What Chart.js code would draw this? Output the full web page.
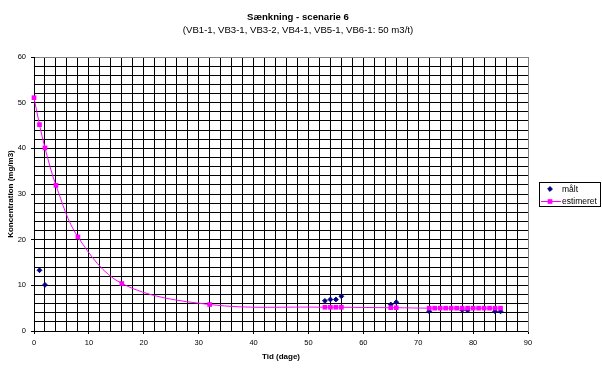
<!DOCTYPE html>
<html>
<head>
<meta charset="utf-8">
<script src="https://cdn.jsdelivr.net/npm/chart.js@4/dist/chart.umd.min.js"></script>
<style>
  html, body { margin: 0; padding: 0; background: #ffffff; }
  #wrap { width: 602px; height: 375px; position: relative; }
</style>
</head>
<body>
<div id="wrap"><canvas id="c" width="602" height="375"></canvas></div>
<script>
// ---- data ----
const titleText = 'Sænkning - scenarie 6';
const subtitleText = '(VB1-1, VB3-1, VB3-2, VB4-1, VB5-1, VB6-1: 50 m3/t)';
const xAxisTitle = 'Tid (dage)';
const yAxisTitle = 'Koncentration (mg/m3)';
const seriesNames = ['målt', 'estimeret'];

const tidMaalt   = [1, 2, 53, 54, 55, 56, 65, 66, 72, 78, 79, 84, 85];
const koncMaalt  = [13.3, 10.1, 6.6, 6.9, 6.9, 7.6, 5.8, 6.3, 4.3, 4.6, 4.5, 4.3, 4.3];

const tidEst  = [0, 1, 2, 4, 8, 16, 32, 53, 54, 55, 56, 65, 66, 72, 73, 74, 75, 76, 77, 78, 79, 80, 81, 82, 83, 84, 85];
const koncEst = [51.1, 45.2, 40.1, 31.9, 20.6, 10.4, 5.8, 5.2, 5.2, 5.2, 5.2, 5.1, 5.1, 5.0, 5.0, 5.0, 5.0, 5.0, 5.0, 5.0, 5.0, 5.0, 5.0, 5.0, 5.0, 5.0, 5.0];

const xMin = 0, xMax = 90, xGridStep = 2, xLabelStep = 10;
const yMin = 0, yMax = 60, yGridStep = 2, yLabelStep = 10;
// --------------------------------------

const FONT = '"Liberation Sans", Arial, sans-serif';
const toPts = (xs, ys) => xs.map((x, i) => ({ x: x, y: ys[i] }));

const boxLegend = {
  id: 'boxLegend',
  afterDraw(chart) {
    const ctx = chart.ctx;
    ctx.save();
    ctx.strokeStyle = '#000000';
    ctx.lineWidth = 1;
    ctx.strokeRect(539.5, 182.5, 61, 24);
    ctx.font = '8.5px ' + FONT;
    ctx.textBaseline = 'middle';
    ctx.textAlign = 'left';
    const rows = [189, 201.5];
    chart.data.datasets.forEach((ds, i) => {
      const y = rows[i];
      if (ds.showLine) {
        ctx.strokeStyle = ds.borderColor;
        ctx.lineWidth = 1;
        ctx.beginPath();
        ctx.moveTo(541, y);
        ctx.lineTo(561, y);
        ctx.stroke();
      }
      ctx.fillStyle = ds.pointBackgroundColor;
      ctx.strokeStyle = ds.pointBorderColor;
      ctx.lineWidth = ds.pointBorderWidth;
      Chart.helpers.drawPoint(ctx, {
        pointStyle: ds.pointStyle, radius: ds.pointRadius, rotation: 0, borderWidth: ds.pointBorderWidth
      }, 550, y);
      ctx.fillStyle = '#000000';
      ctx.fillText(ds.label, 562, y + 0.5);
    });
    ctx.restore();
  }
};

new Chart(document.getElementById('c'), {
  type: 'scatter',
  data: {
    datasets: [
      {
        label: seriesNames[0],
        data: toPts(tidMaalt, koncMaalt),
        showLine: false,
        pointStyle: 'rectRot',
        pointRadius: 2.4,
        pointBackgroundColor: '#000080',
        pointBorderColor: '#000080',
        pointBorderWidth: 1,
        backgroundColor: '#000080',
        borderColor: '#000080',
        order: 1,
        clip: false
      },
      {
        label: seriesNames[1],
        data: toPts(tidEst, koncEst),
        showLine: true,
        tension: 0.35,
        borderColor: '#FF00FF',
        borderWidth: 1,
        pointStyle: 'rect',
        pointRadius: 3.3,
        pointBackgroundColor: '#FF00FF',
        pointBorderColor: '#FF00FF',
        pointBorderWidth: 0,
        backgroundColor: '#FF00FF',
        order: 0,
        clip: false
      }
    ]
  },
  options: {
    responsive: false,
    animation: false,
    events: [],
    layout: { padding: { left: 0, right: 6, top: 0, bottom: 0 } },
    plugins: {
      legend: { display: false },
      tooltip: { enabled: false },
      title: {
        display: true,
        text: titleText,
        color: '#000000',
        font: { family: FONT, size: 9.6, weight: 'bold' },
        padding: { top: 12, bottom: 0 }
      },
      subtitle: {
        display: true,
        text: subtitleText,
        color: '#000000',
        font: { family: FONT, size: 9.6, weight: 'normal' },
        padding: { top: 1, bottom: 21 }
      }
    },
    scales: {
      x: {
        type: 'linear',
        min: xMin, max: xMax,
        afterFit(scale) { scale.height = 44; },
        ticks: {
          stepSize: xGridStep,
          autoSkip: false,
          maxRotation: 0,
          padding: 4,
          color: '#000000',
          font: { family: FONT, size: 7.5 },
          callback: (v) => (v % xLabelStep === 0 ? String(v) : '')
        },
        grid: {
          color: (c) => (c.tick && c.tick.value === xMax ? '#808080' : '#000000'),
          tickColor: (c) => (c.tick && c.tick.value % xLabelStep === 0 ? '#000000' : 'rgba(0,0,0,0)'),
          tickLength: 3,
          lineWidth: 1
        },
        border: { display: true, color: '#000000', width: 1 },
        title: {
          display: true,
          text: xAxisTitle,
          color: '#000000',
          font: { family: FONT, size: 8, weight: 'bold' },
          padding: { top: 0, bottom: 13.5 }
        }
      },
      y: {
        type: 'linear',
        min: yMin, max: yMax,
        afterFit(scale) { scale.width = 34; },
        ticks: {
          stepSize: yGridStep,
          autoSkip: false,
          padding: 5,
          color: '#000000',
          font: { family: FONT, size: 7.5 },
          callback: (v) => (v % yLabelStep === 0 ? String(v) : '')
        },
        grid: {
          color: (c) => (c.tick && c.tick.value === yMax ? '#808080' : '#000000'),
          tickColor: (c) => (c.tick && c.tick.value % yLabelStep === 0 ? '#000000' : 'rgba(0,0,0,0)'),
          tickLength: 3,
          lineWidth: 1
        },
        border: { display: true, color: '#000000', width: 1 },
        title: {
          display: true,
          text: yAxisTitle,
          color: '#000000',
          font: { family: FONT, size: 8, weight: 'bold' },
          padding: { top: 5.5, bottom: 0 }
        }
      },
      yRight: {
        type: 'linear',
        position: 'right',
        display: true,
        min: yMin, max: yMax,
        afterFit(scale) { scale.width = 68; },
        ticks: { display: false },
        grid: { display: false, drawOnChartArea: false },
        border: { display: true, color: '#808080', width: 1 }
      }
    }
  },
  plugins: [boxLegend]
});
</script>
</body>
</html>
